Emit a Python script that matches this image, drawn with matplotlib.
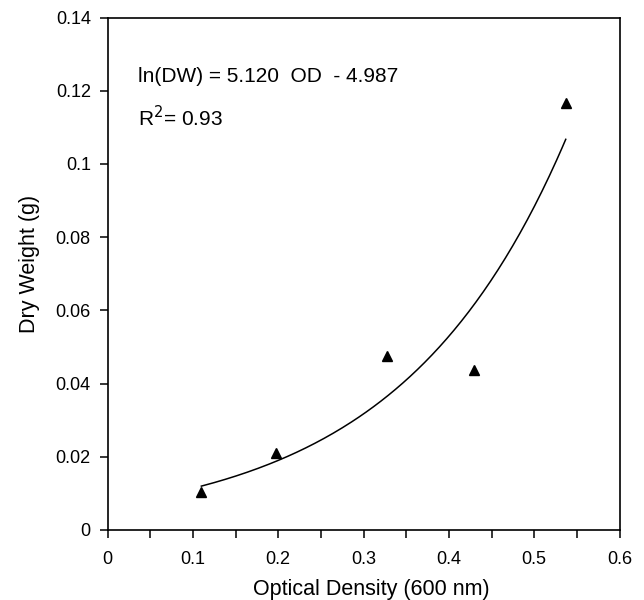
import numpy as np
import matplotlib.pyplot as plt
from matplotlib.ticker import MultipleLocator

plt.rcParams['font.family'] = ['Liberation Sans', 'DejaVu Sans']

# measured points
od = [0.110, 0.197, 0.327, 0.430, 0.537]
dw = [0.0104, 0.0211, 0.0476, 0.0436, 0.1167]

# fit: ln(DW) = 5.120 OD - 4.987
slope = 5.120
intercept = -4.987

xTicks = [0, 0.1, 0.2, 0.3, 0.4, 0.5, 0.6]
xTickLabels = ['0', '0.1', '0.2', '0.3', '0.4', '0.5', '0.6']
yTicks = [0, 0.02, 0.04, 0.06, 0.08, 0.1, 0.12, 0.14]
yTickLabels = ['0', '0.02', '0.04', '0.06', '0.08', '0.1', '0.12', '0.14']

fig = plt.figure(figsize=(6.44, 6.0), dpi=100)
ax = fig.add_axes([107.5 / 644, 70 / 600, 512 / 644, 512.5 / 600])

fitX = np.linspace(min(od), max(od), 200)
fitY = np.exp(slope * fitX + intercept)
ax.plot(fitX, fitY, color='black', lw=1.1)
ax.plot(od, dw, linestyle='none', marker='^', color='black', markersize=6.5)

ax.set_xlim(0, 0.6)
ax.set_ylim(0, 0.14)
ax.set_xticks(xTicks)
ax.set_xticklabels(xTickLabels)
ax.xaxis.set_minor_locator(MultipleLocator(0.05))
ax.set_yticks(yTicks)
ax.set_yticklabels(yTickLabels)
ax.tick_params(which='both', direction='out', length=6, width=1.1, labelsize=13, color='black')
ax.tick_params(axis='x', pad=9)
ax.tick_params(axis='y', pad=6)
for s in ax.spines.values():
    s.set_linewidth(1.2)

ax.set_xlabel('Optical Density (600 nm)', fontsize=15.5, labelpad=8)
ax.set_ylabel('Dry Weight (g)', fontsize=15.5, labelpad=11)
# labels sit a bit off-centre in the original
ax.xaxis.label.set_x(0.516)
ax.yaxis.label.set_y(0.519)

ax.text(0.0596, 0.884, 'ln(DW) = %.3f  OD  - %.3f' % (slope, -intercept),
        transform=ax.transAxes, fontsize=15, va='center', ha='left')
ax.text(0.0596, 0.804, r'R$^2$= 0.93', transform=ax.transAxes,
        fontsize=15, va='center', ha='left')

fig.savefig('out.png', dpi=100)
